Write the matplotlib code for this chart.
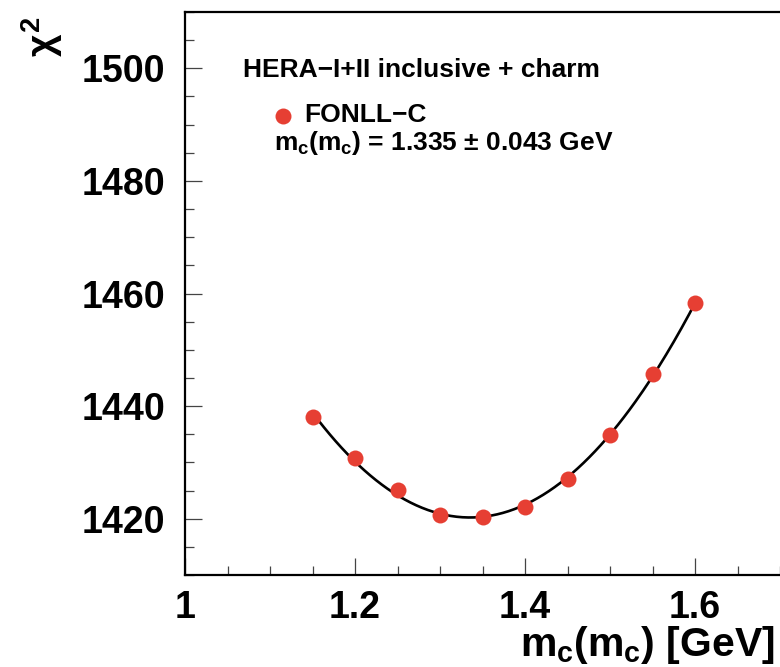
import numpy as np
import matplotlib
matplotlib.use('Agg')
import matplotlib.pyplot as plt
from matplotlib.ticker import MultipleLocator

# chi2 scan vs charm mass
mc = [1.15, 1.20, 1.25, 1.30, 1.35, 1.40, 1.45, 1.50, 1.55, 1.60]
chi2 = [1438.0, 1430.8, 1425.1, 1420.6, 1420.35, 1422.1, 1427.0, 1434.8, 1445.7, 1458.3]

x_ticks = [1.0, 1.2, 1.4, 1.6]
x_labels = ['1', '1.2', '1.4', '1.6']
y_ticks = [1420, 1440, 1460, 1480, 1500]

red = '#e63f33'
font = 'Liberation Sans'

plt.rcParams['font.family'] = font
plt.rcParams['font.weight'] = 'bold'
plt.rcParams['mathtext.fontset'] = 'custom'
plt.rcParams['mathtext.rm'] = 'Liberation Sans:bold'
plt.rcParams['mathtext.it'] = 'Liberation Sans:bold'
plt.rcParams['mathtext.bf'] = 'Liberation Sans:bold'

fig = plt.figure(figsize=(7.8, 6.67), dpi=100)
ax = fig.add_axes([0.2372, 0.1379, 0.7628, 0.8441])

# parabola fit through the scan points, as in the original
coef = np.polyfit(mc, chi2, 2)
xf = np.linspace(mc[0], mc[-1], 200)
ax.plot(xf, np.polyval(coef, xf), color='black', lw=1.9, zorder=2)
ax.plot(mc, chi2, 'o', color=red, ms=11.5, mec='none', zorder=3)

ax.set_xlim(1.0, 1.7)
ax.set_ylim(1410, 1510)
ax.set_xticks(x_ticks)
ax.set_xticklabels(x_labels)
ax.set_yticks(y_ticks)
ax.xaxis.set_minor_locator(MultipleLocator(0.05))
ax.yaxis.set_minor_locator(MultipleLocator(5))
ax.tick_params(which='both', direction='in', width=0.9, color='#444444')
ax.tick_params(which='major', length=12.5, labelsize=27)
ax.tick_params(axis='y', which='major', pad=14)
ax.tick_params(axis='x', which='major', pad=11)
ax.tick_params(which='minor', length=6.2)
for s in ['left', 'bottom', 'top']:
    ax.spines[s].set_linewidth(1.6)
ax.spines['right'].set_visible(False)

# axis titles, ROOT style
fig.text(775 / 780, 0.016, '$m_c(m_c)$ [GeV]', ha='right', va='baseline',
         fontsize=29.5, fontweight='bold')
fig.text(0.054, 0.975, r'$\chi^2$', rotation=90, ha='center', va='top',
         fontsize=28)

# legend block
ax.text(0.097, 0.885, 'HERA\u2212I+II inclusive + charm', transform=ax.transAxes,
        fontsize=19, fontweight='bold', va='baseline')
ax.plot([0.165], [0.815], 'o', color=red, ms=11.5, mec='none',
        transform=ax.transAxes)
ax.text(0.200, 0.805, 'FONLL\u2212C', transform=ax.transAxes,
        fontsize=19, fontweight='bold', va='baseline')
ax.text(0.150, 0.755, '$m_c(m_c)$ = 1.335 \u00b1 0.043 GeV', transform=ax.transAxes,
        fontsize=19, fontweight='bold', va='baseline')

plt.savefig('out.png', dpi=100)
